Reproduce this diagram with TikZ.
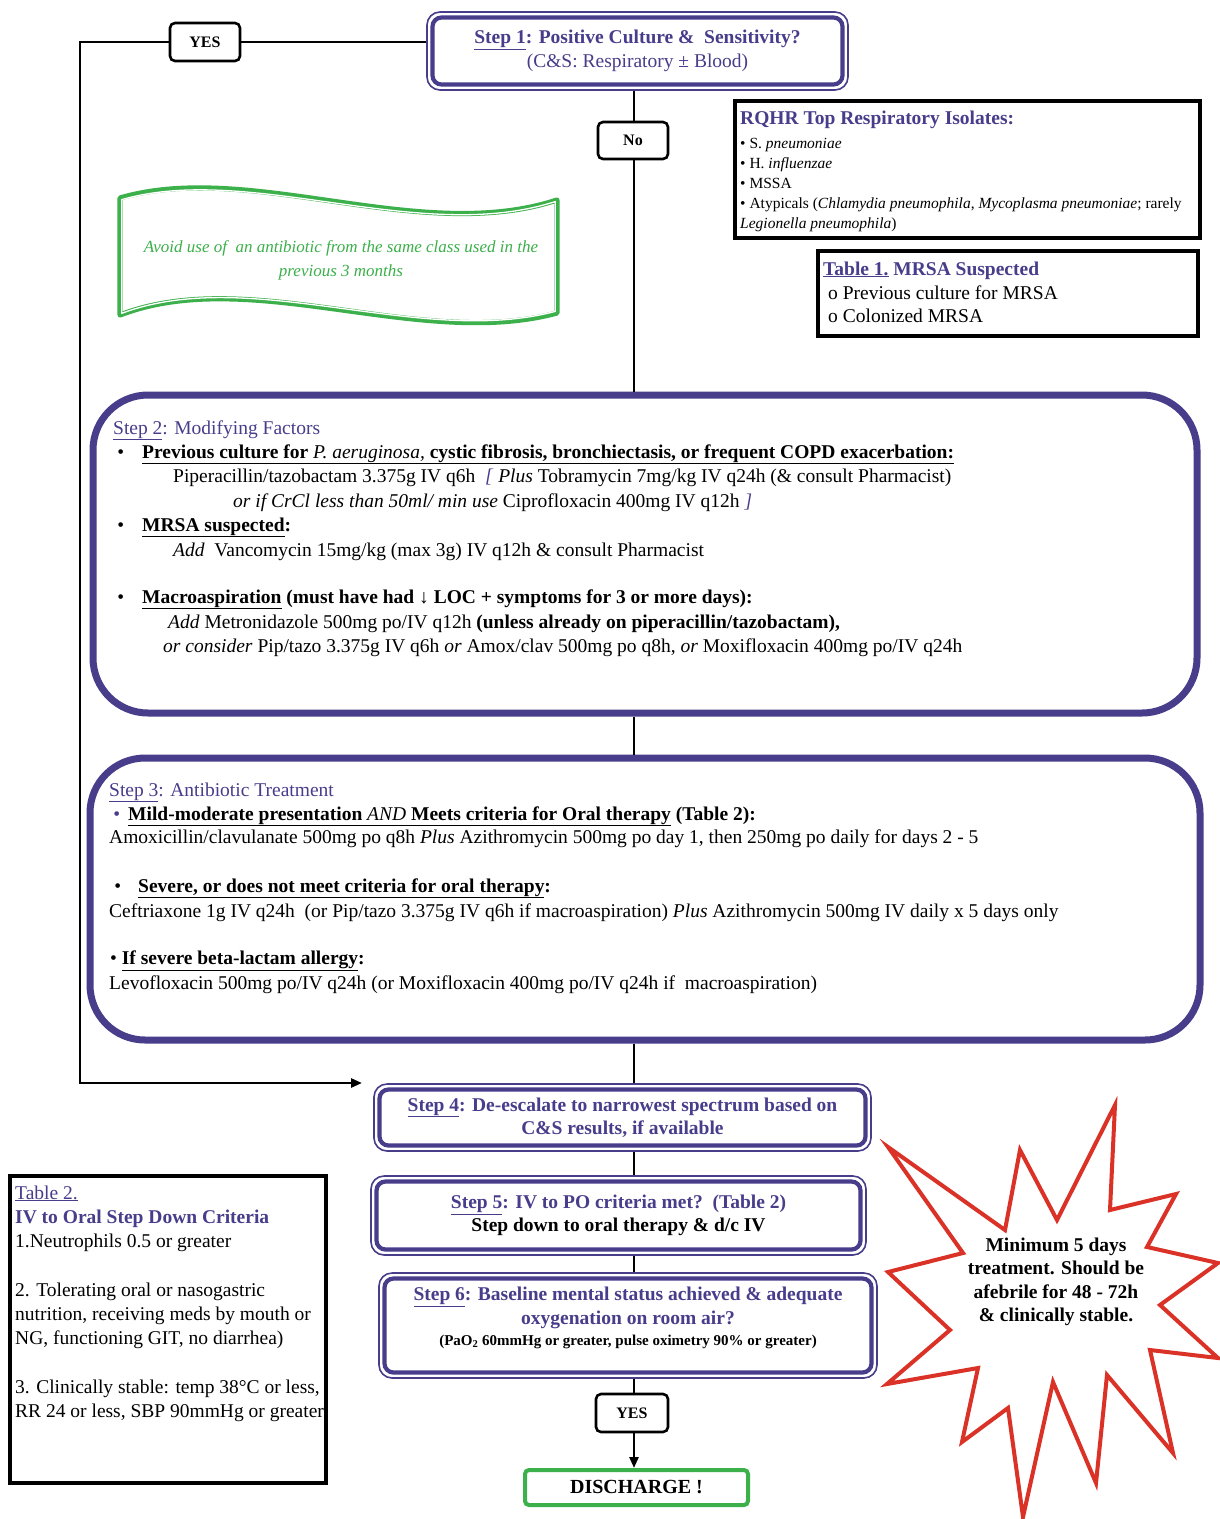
\documentclass[tikz,border=0pt]{standalone}
\usepackage{fontspec}
\setmainfont{Liberation Serif}
\usetikzlibrary{arrows.meta,calc}
\definecolor{pur}{RGB}{72,61,139}
\definecolor{grn}{RGB}{60,176,74}
\definecolor{burst}{RGB}{218,50,38}
\newcommand{\fsz}[2]{\fontsize{#1}{#2}\selectfont}
\newcommand{\bannerpath}{(120,198) .. controls (250,160) and (420,245) .. (557,200) -- (557,313)
  .. controls (420,350) and (250,265) .. (120,315) -- cycle}
\begin{document}
\begin{tikzpicture}[x=1pt,y=-1pt,
  conn/.style={draw=black,line width=2.6pt},
  outerframe/.style={draw=pur,line width=1.6pt,rounded corners=13pt,inner sep=0pt},
  stepbox/.style={draw=pur,line width=4.2pt,rounded corners=9pt,inner sep=0pt,align=center,text=pur,font=\fsz{19.5}{23.5}\bfseries},
  bigbox/.style={draw=pur,line width=7pt,rounded corners=55pt,inner sep=0pt},
  tagbox/.style={draw=black,line width=2.6pt,rounded corners=5pt,inner sep=0pt,font=\fsz{16}{18}\bfseries},
  panel/.style={draw=black,line width=4pt,inner sep=0pt},
  ln/.style={anchor=base west,inner sep=0pt,font=\fsz{19.5}{23}},
  sm/.style={anchor=base west,inner sep=0pt,font=\fsz{15.5}{19}},
  tip/.style={-{Triangle[length=11pt,width=9pt]}}
]
\fill[white] (0,0) rectangle (1220,1519);
\useasboundingbox (0,0) rectangle (1220,1519);
\coordinate (vx) at (634,0);
\coordinate (lc) at (80,1083);
\coordinate (ae) at (362,1083);

% ---------- Step 1 ----------
\node[outerframe,minimum width=421pt,minimum height=78pt] (s1o) at (637.5,51) {};
\node[stepbox,minimum width=410pt,minimum height=67pt] (s1) at (637.5,51)
  {\underline{Step 1}: Positive Culture \&\ \ Sensitivity?\\{\mdseries (C\&S: Respiratory ± Blood)}};

\node[tagbox,minimum width=70pt,minimum height=38pt] (yes1) at (205,42) {YES};
\node[tagbox,minimum width=70pt,minimum height=37pt] (no) at (633,140.5) {No};

% ---------- Isolates panel ----------
\node[panel,minimum width=465pt,minimum height=137pt] (rq) at (967.5,169.5) {};
\node[ln,text=pur,font=\fsz{19.5}{23}\bfseries] (rqa) at (740,124) {RQHR Top Respiratory Isolates:};
\node[sm] (rqb) at (740,148) {• S. \textit{pneumoniae}};
\node[sm] (rqc) at (740,168) {• H. \textit{influenzae}};
\node[sm] (rqd) at (740,188) {• MSSA};
\node[sm] (rqe) at (740,208) {• Atypicals (\textit{Chlamydia pneumophila}, \textit{Mycoplasma pneumoniae}; rarely};
\node[sm] (rqf) at (740,228) {\textit{Legionella pneumophila})};

% ---------- Table 1 ----------
\node[panel,minimum width=380pt,minimum height=85pt] (tb1) at (1008,293.5) {};
\node[ln,text=pur,font=\fsz{19.5}{23}\bfseries] (ta) at (823,275) {\underline{Table 1.} MRSA Suspected};
\node[ln] (tbb) at (828,299) {o Previous culture for MRSA};
\node[ln] (tbc) at (828,322) {o Colonized MRSA};

% ---------- Banner ----------
\draw[grn,line width=5.2pt,line join=round] \bannerpath;
\begin{scope}[shift={(338.5,256)},xscale=0.992,yscale=0.972,shift={(-338.5,-256)}]
  \draw[white,line width=1.3pt,line join=round] \bannerpath;
\end{scope}
\node[align=center,text=grn,font=\fsz{17}{24}\itshape,inner sep=0pt] (ban) at (341,260)
  {Avoid use of\ \ an antibiotic from the same class used in the\\previous 3 months};

% ---------- Step 2 ----------
\node[bigbox,minimum width=1104pt,minimum height=318pt] (s2) at (645,554) {};
\node[ln,text=pur] (t2a) at (113,434) {\underline{Step 2}: Modifying Factors};
\node[ln] (t2b) at (142,458) {\llap{•\hspace{18pt}}\textbf{\underline{Previous culture for \textmd{\textit{P. aeruginosa,}} cystic fibrosis, bronchiectasis, or frequent COPD exacerbation:}}};
\node[ln] (t2c) at (173,482) {Piperacillin/tazobactam 3.375g IV q6h\ \ \textcolor{pur}{\textit{[}} \textit{Plus} Tobramycin 7mg/kg IV q24h (\& consult Pharmacist)};
\node[ln] (t2d) at (233,507) {\textit{or if CrCl less than 50ml/\ min use} Ciprofloxacin 400mg IV q12h \textcolor{pur}{\textit{]}}};
\node[ln] (t2e) at (142,531) {\llap{•\hspace{18pt}}\textbf{\underline{MRSA suspected}:}};
\node[ln] (t2f) at (173,556) {\textit{Add}\ \ Vancomycin 15mg/kg (max 3g) IV q12h \& consult Pharmacist};
\node[ln] (t2g) at (142,603) {\llap{•\hspace{18pt}}\textbf{\underline{Macroaspiration} (must have had ↓ LOC + symptoms for 3 or more days):}};
\node[ln] (t2h) at (168,628) {\textit{Add} Metronidazole 500mg po/IV q12h \textbf{(unless already on piperacillin/tazobactam),}};
\node[ln] (t2i) at (163,652) {\textit{or consider} Pip/tazo 3.375g IV q6h \textit{or} Amox/clav 500mg po q8h, \textit{or} Moxifloxacin 400mg po/IV q24h};

% ---------- Step 3 ----------
\node[bigbox,minimum width=1110pt,minimum height=282pt] (s3) at (645,899) {};
\node[ln,text=pur] (t3a) at (109,796) {\underline{Step 3}: Antibiotic Treatment};
\node[ln] (t3b) at (128,820) {\llap{\textcolor{pur}{•}\hspace{8pt}}\textbf{\underline{Mild-moderate presentation \textmd{\textit{AND}} Meets criteria for Oral therapy} (Table 2):}};
\node[ln] (t3c) at (109,843) {Amoxicillin/clavulanate 500mg po q8h \textit{Plus} Azithromycin 500mg po day 1, then 250mg po daily for days 2 - 5};
\node[ln] (t3d) at (138,892) {\llap{•\hspace{17pt}}\textbf{\underline{Severe, or does not meet criteria for oral therapy}:}};
\node[ln] (t3e) at (109,917) {Ceftriaxone 1g IV q24h\ \ (or Pip/tazo 3.375g IV q6h if macroaspiration) \textit{Plus} Azithromycin 500mg IV daily x 5 days only};
\node[ln] (t3f) at (110,964) {• \textbf{\underline{If severe beta-lactam allergy}:}};
\node[ln] (t3g) at (109,989) {Levofloxacin 500mg po/IV q24h (or Moxifloxacin 400mg po/IV q24h if\ \ macroaspiration)};

% ---------- Steps 4-6 ----------
\node[outerframe,minimum width=497pt,minimum height=67pt] (s4o) at (622.5,1117.5) {};
\node[stepbox,minimum width=486pt,minimum height=56pt] (s4) at (622.5,1117.5)
  {\underline{Step 4}: De-escalate to narrowest spectrum based on\\C\&S results, if available};
\node[outerframe,minimum width=495pt,minimum height=79pt] (s5o) at (618.5,1215.5) {};
\node[stepbox,minimum width=484pt,minimum height=68pt] (s5) at (618.5,1215.5)
  {\underline{Step 5}: IV to PO criteria met?\ \ (Table 2)\\{\color{black}Step down to oral therapy \& d/c IV}};
\node[outerframe,minimum width=498pt,minimum height=105pt] (s6o) at (628,1325.5) {};
\node[stepbox,minimum width=487pt,minimum height=94pt] (s6) at (628,1325.5) {};
\node[align=center,text=pur,font=\fsz{19.5}{23.5}\bfseries,inner sep=0pt] (s6t) at (628,1318)
  {\underline{Step 6}: Baseline mental status achieved \& adequate\\oxygenation on room air?\\[-2pt]{\color{black}\fsz{15}{18}(PaO\textsubscript{2} 60mmHg or greater, pulse oximetry 90\% or greater)}};

\node[tagbox,minimum width=72pt,minimum height=38pt] (yes2) at (632,1413) {YES};
\node[draw=grn,line width=4pt,rounded corners=4pt,minimum width=223pt,minimum height=35pt,inner sep=0pt,font=\fsz{20}{24}\bfseries] (dis) at (636.5,1487.5) {DISCHARGE !};

% ---------- Table 2 ----------
\node[panel,minimum width=316pt,minimum height=307pt] (tb2) at (168,1329.5) {};
\node[ln,text=pur] (u1) at (15,1199) {\underline{Table 2.}};
\node[ln,text=pur,font=\fsz{19.5}{23}\bfseries] (u2) at (15,1223) {IV to Oral Step Down Criteria};
\node[ln] (u3) at (15,1247) {1.Neutrophils 0.5 or greater};
\node[ln] (u4) at (15,1296) {2. Tolerating oral or nasogastric};
\node[ln] (u5) at (15,1320) {nutrition, receiving meds by mouth or};
\node[ln] (u6) at (15,1344) {NG, functioning GIT, no diarrhea)};
\node[ln] (u7) at (15,1393) {3. Clinically stable: temp 38°C or less,};
\node[ln] (u8) at (15,1417) {RR 24 or less, SBP 90mmHg or greater};

% ---------- Starburst ----------
\draw[burst,line width=4pt,line join=miter,miter limit=20]
  (1115,1105) -- (1110,1210) -- (1176,1194) -- (1147,1247) -- (1218,1263) -- (1160,1305)
  -- (1218,1358) -- (1150,1350) -- (1173,1453) -- (1107,1375) -- (1096,1483) -- (1053,1382)
  -- (1023,1517) -- (1008,1408) -- (962,1442) -- (978,1368) -- (887,1384) -- (950,1330)
  -- (888,1272) -- (963,1253) -- (888,1147) -- (1005,1230) -- (1020,1150) -- (1057,1220) -- cycle;
\node[align=center,font=\fsz{19.5}{23.5}\bfseries,inner sep=0pt] (bt) at (1056,1282)
  {Minimum 5 days\\treatment. Should be\\afebrile for 48 - 72h\\\& clinically stable.};

% ---------- Connectors ----------
\draw[conn] (yes1.east) -- (yes1.east -| s1o.west);
\draw[conn,tip] (yes1.west) -| (lc) -- (ae);
\draw[conn] (s1o.south -| vx) -- (no.north -| vx);
\draw[conn] (no.south -| vx) -- (s2.north -| vx);
\draw[conn] (s2.south -| vx) -- (s3.north -| vx);
\draw[conn] (s3.south -| vx) -- (s4o.north -| vx);
\draw[conn] (s4o.south -| vx) -- (s5o.north -| vx);
\draw[conn] (s5o.south -| vx) -- (s6o.north -| vx);
\draw[conn] (s6o.south -| vx) -- (yes2.north -| vx);
\draw[conn,tip] (yes2.south -| vx) -- (dis.north -| vx);
\end{tikzpicture}
\end{document}
